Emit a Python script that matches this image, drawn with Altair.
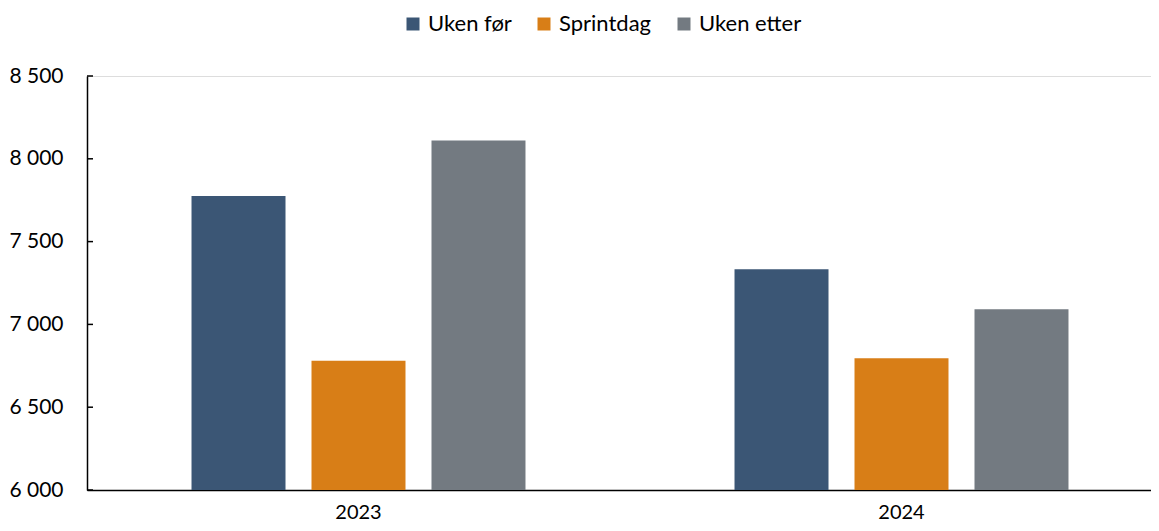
import altair as alt
import pandas as pd

years = ["2023", "2024"]
series = ["Uken før", "Sprintdag", "Uken etter"]
values_2023 = [7776, 6780, 8111]
values_2024 = [7333, 6796, 7092]
colors = ["#3B5675", "#D87E17", "#737A81"]
y_ticks = [6000, 6500, 7000, 7500, 8000, 8500]

rows = []
for yr, vals in zip(years, [values_2023, values_2024]):
    for s, v in zip(series, vals):
        rows.append({"year": yr, "series": s, "value": v})
df = pd.DataFrame(rows)
ticks_df = pd.DataFrame({"t": y_ticks})

FONT = "Lato"
W = 1064
H = 414

yscale = alt.Scale(domain=[6000, 8500], nice=False, zero=False)

bars = alt.Chart(df).mark_bar(clip=True).encode(
    x=alt.X("year:N", sort=years, title=None,
            scale=alt.Scale(range=[0, 1086], paddingInner=0, paddingOuter=0),
            axis=alt.Axis(labelAngle=0, ticks=False, domainColor="black", domainWidth=1.5,
                          labelFont=FONT, labelFontSize=20, labelColor="black",
                          labelPadding=12)),
    xOffset=alt.XOffset("series:N", sort=series,
                        scale=alt.Scale(paddingInner=0.2167, paddingOuter=0.871)),
    y=alt.Y("value:Q", scale=yscale, title=None,
            axis=alt.Axis(values=y_ticks, grid=False, tickSize=0, domainColor="black",
                          domainWidth=1.5, labelFont=FONT, labelFontSize=21,
                          labelColor="black", labelPadding=24,
                          labelExpr="replace(format(datum.value, ','), ',', ' ')")),
    color=alt.Color("series:N", sort=series,
                    scale=alt.Scale(domain=series, range=colors),
                    legend=alt.Legend(title=None, orient="none", direction="horizontal",
                                      legendX=315, legendY=-63, symbolType="square",
                                      symbolSize=169, symbolStrokeWidth=0,
                                      labelFont=FONT, labelFontSize=22, labelColor="black",
                                      labelOffset=4, columnPadding=21)),
)

tick_rules = alt.Chart(ticks_df).mark_rule(color="black", strokeWidth=1.5).encode(
    y=alt.Y("t:Q", scale=yscale),
    x=alt.value(0),
    x2=alt.value(6),
)

chart = alt.layer(bars, tick_rules).properties(
    width=W, height=H,
    autosize=alt.AutoSizeParams(type="none"),
    padding={"left": 79, "top": 68, "right": 0, "bottom": 33},
).configure_view(stroke=None).configure(background="white")

chart.save("out.html", embed_options={"renderer": "svg", "actions": False})
